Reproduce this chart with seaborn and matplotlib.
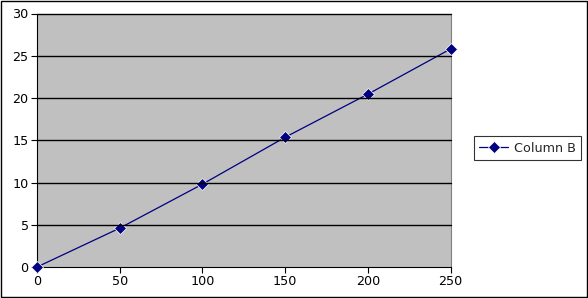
import matplotlib
matplotlib.use("Agg")
import matplotlib.pyplot as plt
import seaborn as sns
import pandas as pd
from matplotlib.patches import Rectangle

x_values = [0, 50, 100, 150, 200, 250]
column_b = [0, 4.6, 9.8, 15.35, 20.45, 25.8]
series_name = "Column B"
x_ticks = [0, 50, 100, 150, 200, 250]
y_ticks = [0, 5, 10, 15, 20, 25, 30]

df = pd.DataFrame({"x": x_values, "y": column_b, "series": series_name})

sns.set_theme(style="white")
plt.rcParams['font.family'] = ['DejaVu Sans']

fig = plt.figure(figsize=(5.88, 2.98), dpi=100)
ax = fig.add_axes([37/588, 31/298, (450.5-37)/588, (267-13.5)/298])
ax.set_facecolor("#c0c0c0")

sns.lineplot(data=df, x="x", y="y", hue="series", palette=["#000080"],
             marker="D", markersize=6, markeredgewidth=0.5, linewidth=0.9,
             ax=ax, legend=True)

ax.set_xlim(0, 250)
ax.set_ylim(0, 30)
ax.set_xticks(x_ticks)
ax.set_yticks(y_ticks)
ax.set_xlabel("")
ax.set_ylabel("")
for v in y_ticks[1:]:
    ax.axhline(v, color="black", linewidth=1.0, zorder=1)
for l in ax.lines:
    l.set_clip_on(False)
    l.set_zorder(3)

ax.tick_params(axis="both", which="major", direction="out", length=4, width=0.8,
               color="black", labelsize=9.2, labelcolor="black", pad=2, left=True, bottom=True)
for side in ["left", "bottom"]:
    ax.spines[side].set_color("black")
    ax.spines[side].set_linewidth(0.8)
ax.spines["top"].set_visible(False)
ax.spines["right"].set_color("#808080")
ax.spines["right"].set_linewidth(0.8)

leg = ax.legend(loc="center left", bbox_to_anchor=((474-37)/(450.5-37), (298-148-31)/(267-13.5)),
                frameon=True, fancybox=False, fontsize=9.2, borderpad=0.4,
                handlelength=2.3, handletextpad=0.4, borderaxespad=0)
leg.get_frame().set_edgecolor("black")
leg.get_frame().set_linewidth(0.8)

fig.patches.append(Rectangle((0.7/588, 1.0/298), 586.3/588, 296.3/298, transform=fig.transFigure,
                             fill=False, edgecolor="black", linewidth=1.0))

fig.savefig("out.png", dpi=100, facecolor="white")
